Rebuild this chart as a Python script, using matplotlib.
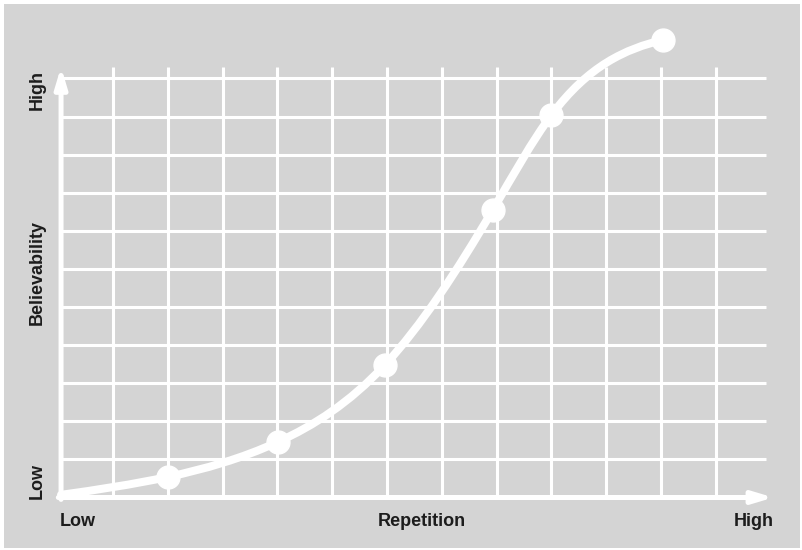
import numpy as np
import matplotlib
matplotlib.use("Agg")
import matplotlib.pyplot as plt
from matplotlib.path import Path
from matplotlib.patches import PathPatch, Rectangle

# repetition (x) vs believability (y), in grid units
rep = [0.05, 2.0, 4.01, 5.96, 7.93, 9.0, 11.03]
belief = [0.07, 0.54, 1.46, 3.48, 7.55, 10.04, 12.01]
dot_idx = [1, 2, 3, 4, 5, 6]
end_slopes = (0.2, 0.35)

x_labels = ["Low", "Repetition", "High"]
y_labels = ["Low", "Believability", "High"]

BG = "#d4d4d4"
INK = "#1c1c1c"
W, H = 803, 550


def smooth_path(xs, ys, m_start, m_end):
    """Clamped cubic spline y(x) through the points, as bezier segments."""
    x = np.asarray(xs, float)
    y = np.asarray(ys, float)
    n = len(x)
    h = np.diff(x)
    d = np.diff(y) / h
    A = np.zeros((n, n))
    b = np.zeros(n)
    A[0, 0] = 1.0
    b[0] = m_start
    A[-1, -1] = 1.0
    b[-1] = m_end
    for i in range(1, n - 1):
        A[i, i - 1] = h[i]
        A[i, i] = 2 * (h[i - 1] + h[i])
        A[i, i + 1] = h[i - 1]
        b[i] = 3 * (h[i] * d[i - 1] + h[i - 1] * d[i])
    m = np.linalg.solve(A, b)

    verts = [(x[0], y[0])]
    codes = [Path.MOVETO]
    for i in range(n - 1):
        k = h[i] / 3
        verts += [(x[i] + k, y[i] + m[i] * k),
                  (x[i + 1] - k, y[i + 1] - m[i + 1] * k),
                  (x[i + 1], y[i + 1])]
        codes += [Path.CURVE4] * 3
    return Path(verts, codes)


fig = plt.figure(figsize=(W / 100, H / 100), dpi=100, facecolor="white")

# gray card behind everything
fig.patches.append(Rectangle((4 / W, 2 / H), (W - 7) / W, (H - 6) / H,
                             transform=fig.transFigure, facecolor=BG,
                             edgecolor="none", zorder=-5))

x0, y0 = 58.3, 497.5      # origin in pixels
ux, uy = 54.8, 38.1       # pixels per grid unit
xmin, xmax, ymax = 0.0, 13.05, 12.4
ax = fig.add_axes([x0 / W, (H - y0) / H, xmax * ux / W, ymax * uy / H])
ax.set_xlim(xmin, xmax)
ax.set_ylim(0, ymax)
ax.axis("off")
ax.patch.set_alpha(0)

# grid
ax.vlines(np.arange(1, 13), 0, 11.3, color="white", lw=2.2, zorder=1)
ax.hlines(np.arange(1, 12), 0.05, 12.92, color="white", lw=2.2, zorder=1)

# axes with arrow heads
arrow = dict(arrowstyle="-|>,head_length=1.0,head_width=0.3",
             color="white", lw=3.6, shrinkA=0, shrinkB=0, mutation_scale=12)
ax.annotate("", xy=(13.05, 0), xytext=(0.0, 0), arrowprops=arrow, zorder=2,
            annotation_clip=False)
ax.annotate("", xy=(0.05, 11.3), xytext=(0.05, -0.05), arrowprops=arrow,
            zorder=2, annotation_clip=False)

# curve and dots
ax.add_patch(PathPatch(smooth_path(rep, belief, *end_slopes),
                       facecolor="none", edgecolor="white", lw=5.8,
                       capstyle="round", zorder=3, clip_on=False))
ax.plot([rep[i] for i in dot_idx], [belief[i] for i in dot_idx], "o",
        color="white", ms=16.5, zorder=4, clip_on=False)

font = dict(family=["Liberation Sans", "DejaVu Sans"], weight="bold",
            size=13, color=INK)


def px(x, y):
    return x / W, 1 - y / H


fig.text(*px(60, 526), x_labels[0], ha="left", va="baseline", **font)
fig.text(*px(422, 526), x_labels[1], ha="center", va="baseline", **font)
fig.text(*px(774, 526), x_labels[2], ha="right", va="baseline", **font)

fig.text(*px(42, 499), y_labels[0], rotation=90, rotation_mode="anchor",
         ha="left", va="baseline", **font)
fig.text(*px(42, 272), y_labels[1], rotation=90, rotation_mode="anchor",
         ha="center", va="baseline", **font)
fig.text(*px(42, 70), y_labels[2], rotation=90, rotation_mode="anchor",
         ha="right", va="baseline", **font)

fig.savefig("out.png", dpi=100, facecolor="white")
